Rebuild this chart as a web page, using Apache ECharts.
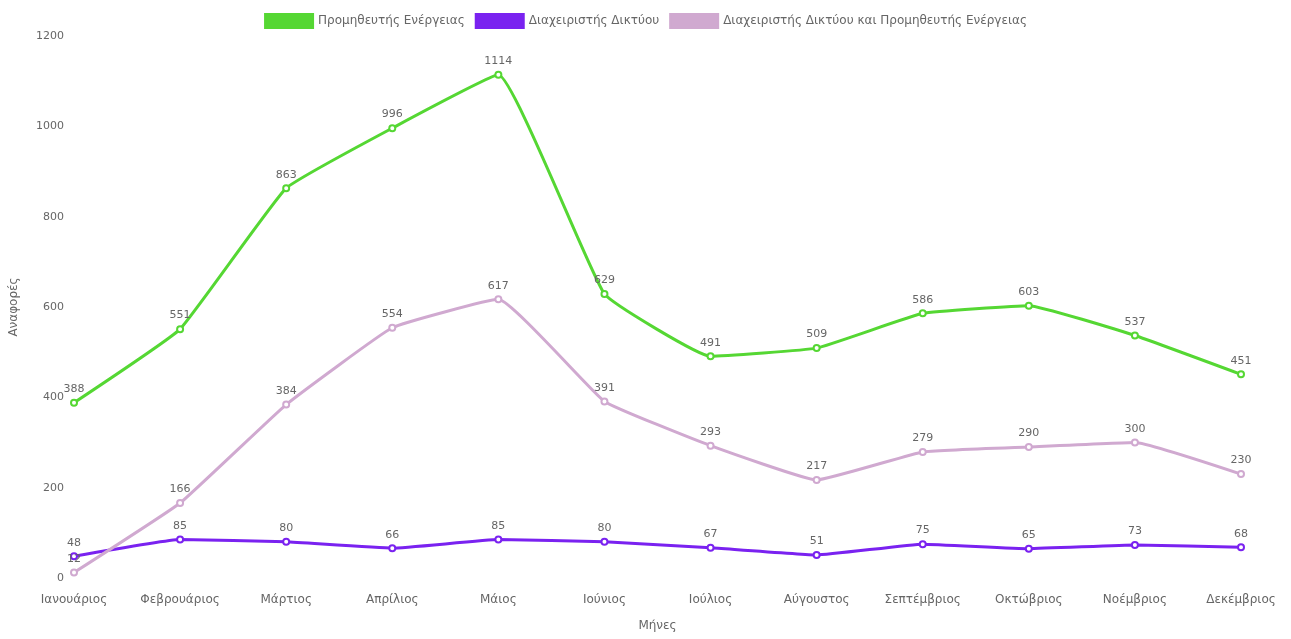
<!DOCTYPE html>
<html>
<head>
<meta charset="utf-8">
<script src="https://cdn.jsdelivr.net/npm/echarts@6/dist/echarts.min.js"></script>
<style>
  html, body { margin: 0; padding: 0; background: #fff; }
  #chart { width: 1291px; height: 639px; }
</style>
</head>
<body>
<div id="chart"></div>
<script>
// Monthly reports per category
const months = ['Ιανουάριος', 'Φεβρουάριος', 'Μάρτιος', 'Απρίλιος', 'Μάιος', 'Ιούνιος',
  'Ιούλιος', 'Αύγουστος', 'Σεπτέμβριος', 'Οκτώβριος', 'Νοέμβριος', 'Δεκέμβριος'];
const supplierName = 'Προμηθευτής Ενέργειας';
const operatorName = 'Διαχειριστής Δικτύου';
const bothName = 'Διαχειριστής Δικτύου και Προμηθευτής Ενέργειας';
const supplier = [388, 551, 863, 996, 1114, 629, 491, 509, 586, 603, 537, 451];
const operator = [48, 85, 80, 66, 85, 80, 67, 51, 75, 65, 73, 68];
const both = [12, 166, 384, 554, 617, 391, 293, 217, 279, 290, 300, 230];
const yAxisName = 'Αναφορές';
const xAxisName = 'Μήνες';

const font = 'DejaVu Sans, Verdana, sans-serif';
const textColor = '#666';
const textSize = 12;   // words
const numSize = 11;    // numbers

function lineSeries(name, data, color) {
  return {
    name: name,
    type: 'line',
    data: data,
    smooth: 0.1,
    symbol: 'emptyCircle',
    symbolSize: 6,
    lineStyle: { width: 3, color: color },
    itemStyle: { color: color, borderColor: color, borderWidth: 2 },
    label: {
      show: true,
      position: 'top',
      distance: 4,
      color: textColor,
      fontFamily: font,
      fontSize: numSize
    }
  };
}

const chart = echarts.init(document.getElementById('chart'));
chart.setOption({
  animation: false,
  textStyle: { fontFamily: font },
  legend: {
    top: 8,
    left: 'center',
    itemWidth: 48,
    itemHeight: 14,
    itemGap: 10,
    icon: 'rect',
    textStyle: { color: textColor, fontSize: textSize, fontFamily: font },
    data: [supplierName, operatorName, bothName]
  },
  grid: { left: 74, right: 50, top: 36, bottom: 61, containLabel: false },
  xAxis: {
    type: 'category',
    data: months,
    boundaryGap: false,
    name: xAxisName,
    nameLocation: 'middle',
    nameGap: 42,
    nameTextStyle: { color: textColor, fontSize: textSize, fontFamily: font },
    axisLine: { show: false },
    axisTick: { show: false },
    splitLine: { show: false },
    axisLabel: { color: textColor, fontSize: textSize, margin: 16, fontFamily: font }
  },
  yAxis: {
    type: 'value',
    min: 0,
    max: 1200,
    interval: 200,
    name: yAxisName,
    nameLocation: 'middle',
    nameGap: 54,
    nameTextStyle: { color: textColor, fontSize: textSize, fontFamily: font },
    axisLine: { show: false },
    axisTick: { show: false },
    splitLine: { show: false },
    axisLabel: {
      color: textColor, fontSize: numSize, margin: 10, fontFamily: font,
      formatter: function (v) { return String(v); }
    }
  },
  series: [
    lineSeries(supplierName, supplier, '#55d733'),
    lineSeries(operatorName, operator, '#7a22f0'),
    lineSeries(bothName, both, '#d0a9d0')
  ]
});
</script>
</body>
</html>
